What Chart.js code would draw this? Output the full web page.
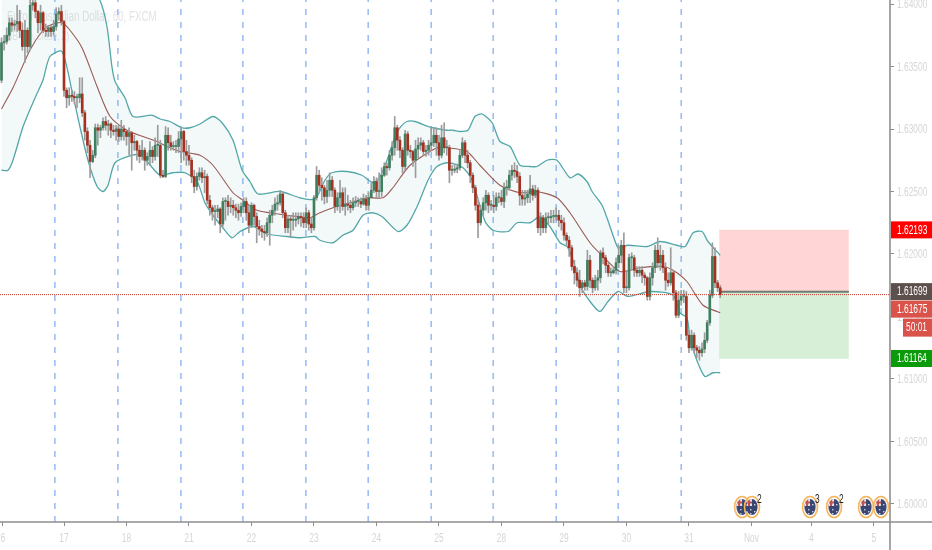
<!DOCTYPE html>
<html><head><meta charset="utf-8">
<style>html,body{margin:0;padding:0;background:#fff}canvas{display:block}</style>
<script src="https://cdn.jsdelivr.net/npm/chart.js@4"></script>
</head><body><canvas id="c" width="932" height="550" style="width:932px;height:550px"></canvas>
<script>
const firstOpen = 1.6339;
const closes = [
1.6369,1.6370,1.6375,1.6385,1.6383,1.6384,1.6386,1.6379,1.6366,1.6379,
1.6366,1.6399,1.6401,1.6394,1.6385,1.6393,1.6379,1.6378,1.6381,1.6378,
1.6382,1.6392,1.6394,1.6386,1.6331,1.6325,1.6327,1.6326,1.6325,1.6325,
1.6328,1.6313,1.6298,1.6287,1.6274,1.6279,1.6301,1.6299,1.6301,1.6306,
1.6303,1.6304,1.6299,1.6298,1.6300,1.6294,1.6300,1.6298,1.6294,1.6297,
1.6289,1.6290,1.6283,1.6278,1.6283,1.6275,1.6278,1.6283,1.6278,1.6287,
1.6287,1.6263,1.6262,1.6295,1.6289,1.6286,1.6286,1.6286,1.6292,1.6298,
1.6282,1.6279,1.6275,1.6262,1.6254,1.6262,1.6265,1.6261,1.6262,1.6243,
1.6237,1.6234,1.6234,1.6236,1.6224,1.6242,1.6242,1.6238,1.6239,1.6237,
1.6235,1.6233,1.6238,1.6242,1.6233,1.6223,1.6239,1.6230,1.6222,1.6220,
1.6218,1.6217,1.6225,1.6231,1.6235,1.6240,1.6241,1.6248,1.6233,1.6221,
1.6228,1.6227,1.6227,1.6228,1.6230,1.6229,1.6225,1.6233,1.6224,1.6221,
1.6245,1.6263,1.6255,1.6253,1.6246,1.6251,1.6259,1.6251,1.6238,1.6245,
1.6249,1.6238,1.6240,1.6239,1.6237,1.6241,1.6242,1.6242,1.6240,1.6244,
1.6239,1.6245,1.6251,1.6258,1.6250,1.6250,1.6263,1.6270,1.6269,1.6279,
1.6285,1.6301,1.6291,1.6283,1.6270,1.6296,1.6283,1.6282,1.6275,1.6284,
1.6287,1.6289,1.6282,1.6283,1.6287,1.6289,1.6295,1.6289,1.6279,1.6293,
1.6285,1.6285,1.6267,1.6267,1.6268,1.6269,1.6279,1.6289,1.6279,1.6273,
1.6263,1.6253,1.6239,1.6225,1.6235,1.6241,1.6247,1.6239,1.6239,1.6238,
1.6245,1.6245,1.6242,1.6253,1.6253,1.6263,1.6267,1.6266,1.6262,1.6247,
1.6244,1.6245,1.6248,1.6252,1.6247,1.6251,1.6221,1.6229,1.6221,1.6229,
1.6229,1.6230,1.6230,1.6231,1.6227,1.6225,1.6215,1.6211,1.6205,1.6190,
1.6185,1.6179,1.6173,1.6177,1.6174,1.6195,1.6179,1.6173,1.6179,1.6181,
1.6201,1.6197,1.6191,1.6185,1.6185,1.6187,1.6193,1.6199,1.6207,1.6173,
1.6173,1.6197,1.6197,1.6187,1.6185,1.6187,1.6183,1.6181,1.6166,1.6181,
1.6189,1.6203,1.6193,1.6199,1.6189,1.6179,1.6177,1.6185,1.6169,1.6151,
1.6163,1.6166,1.6166,1.6135,1.6125,1.6135,1.6125,1.6123,1.6121,1.6124,
1.6131,1.6145,1.6167,1.6198,1.6177,1.6173,1.61675];
const highs = [
1.6373,1.6375,1.6381,1.6389,1.6389,1.6387,1.6399,1.6395,1.6385,1.6387,
1.6381,1.6403,1.6403,1.6403,1.6395,1.6399,1.6394,1.6384,1.6383,1.6383,
1.6387,1.6397,1.6397,1.6399,1.6387,1.6333,1.6333,1.6331,1.6330,1.6328,
1.6341,1.6341,1.6315,1.6301,1.6291,1.6283,1.6304,1.6304,1.6303,1.6309,
1.6310,1.6307,1.6305,1.6303,1.6303,1.6303,1.6307,1.6303,1.6299,1.6301,
1.6298,1.6295,1.6291,1.6287,1.6291,1.6285,1.6281,1.6290,1.6286,1.6293,
1.6303,1.6291,1.6267,1.6302,1.6301,1.6295,1.6290,1.6291,1.6298,1.6301,
1.6299,1.6291,1.6287,1.6277,1.6267,1.6265,1.6269,1.6269,1.6267,1.6264,
1.6247,1.6239,1.6239,1.6239,1.6237,1.6245,1.6245,1.6247,1.6245,1.6243,
1.6240,1.6240,1.6241,1.6245,1.6245,1.6239,1.6241,1.6240,1.6233,1.6227,
1.6223,1.6223,1.6229,1.6235,1.6239,1.6245,1.6247,1.6251,1.6249,1.6235,
1.6231,1.6231,1.6233,1.6233,1.6233,1.6233,1.6233,1.6237,1.6235,1.6229,
1.6247,1.6270,1.6267,1.6261,1.6255,1.6259,1.6265,1.6262,1.6253,1.6249,
1.6259,1.6253,1.6253,1.6247,1.6243,1.6245,1.6246,1.6245,1.6245,1.6248,
1.6247,1.6249,1.6257,1.6262,1.6261,1.6265,1.6269,1.6273,1.6273,1.6283,
1.6290,1.6310,1.6303,1.6294,1.6285,1.6299,1.6298,1.6287,1.6283,1.6291,
1.6293,1.6293,1.6291,1.6287,1.6291,1.6301,1.6301,1.6301,1.6295,1.6303,
1.6305,1.6291,1.6287,1.6271,1.6271,1.6272,1.6283,1.6293,1.6291,1.6283,
1.6275,1.6265,1.6255,1.6243,1.6239,1.6245,1.6251,1.6249,1.6243,1.6247,
1.6249,1.6249,1.6251,1.6257,1.6259,1.6267,1.6271,1.6273,1.6271,1.6265,
1.6251,1.6251,1.6251,1.6263,1.6255,1.6255,1.6253,1.6233,1.6231,1.6233,
1.6233,1.6235,1.6235,1.6237,1.6235,1.6231,1.6229,1.6217,1.6214,1.6207,
1.6195,1.6189,1.6187,1.6179,1.6179,1.6203,1.6199,1.6181,1.6183,1.6187,
1.6203,1.6205,1.6199,1.6193,1.6189,1.6190,1.6197,1.6207,1.6211,1.6217,
1.6187,1.6200,1.6201,1.6199,1.6190,1.6190,1.6190,1.6185,1.6182,1.6185,
1.6193,1.6207,1.6213,1.6207,1.6203,1.6193,1.6185,1.6205,1.6187,1.6171,
1.6170,1.6171,1.6171,1.6170,1.6139,1.6139,1.6137,1.6127,1.6126,1.6129,
1.6137,1.6147,1.6171,1.6209,1.6205,1.6179,1.6175];
const lows = [
1.6337,1.6363,1.6368,1.6371,1.6378,1.6379,1.6378,1.6373,1.6363,1.6353,
1.6361,1.6363,1.6395,1.6389,1.6377,1.6379,1.6377,1.6374,1.6374,1.6374,
1.6375,1.6379,1.6387,1.6383,1.6326,1.6317,1.6319,1.6322,1.6320,1.6317,
1.6321,1.6310,1.6291,1.6281,1.6261,1.6273,1.6277,1.6287,1.6293,1.6299,
1.6299,1.6295,1.6293,1.6295,1.6291,1.6290,1.6291,1.6291,1.6287,1.6279,
1.6267,1.6283,1.6275,1.6273,1.6275,1.6267,1.6271,1.6271,1.6273,1.6275,
1.6278,1.6261,1.6261,1.6261,1.6283,1.6283,1.6283,1.6281,1.6281,1.6273,
1.6275,1.6271,1.6271,1.6257,1.6249,1.6251,1.6259,1.6257,1.6249,1.6240,
1.6231,1.6227,1.6223,1.6229,1.6217,1.6222,1.6227,1.6231,1.6233,1.6231,
1.6229,1.6227,1.6230,1.6233,1.6227,1.6217,1.6221,1.6223,1.6209,1.6215,
1.6213,1.6211,1.6214,1.6207,1.6225,1.6231,1.6235,1.6239,1.6229,1.6217,
1.6217,1.6213,1.6219,1.6222,1.6224,1.6222,1.6221,1.6221,1.6219,1.6217,
1.6219,1.6243,1.6249,1.6243,1.6240,1.6241,1.6246,1.6246,1.6233,1.6235,
1.6233,1.6235,1.6231,1.6235,1.6233,1.6235,1.6238,1.6238,1.6237,1.6239,
1.6235,1.6235,1.6245,1.6249,1.6245,1.6245,1.6246,1.6262,1.6263,1.6267,
1.6275,1.6279,1.6283,1.6277,1.6265,1.6267,1.6279,1.6277,1.6270,1.6261,
1.6277,1.6283,1.6279,1.6278,1.6279,1.6283,1.6286,1.6279,1.6275,1.6277,
1.6281,1.6279,1.6257,1.6263,1.6265,1.6265,1.6267,1.6277,1.6273,1.6269,
1.6257,1.6249,1.6235,1.6213,1.6223,1.6231,1.6235,1.6233,1.6235,1.6233,
1.6235,1.6241,1.6239,1.6237,1.6247,1.6251,1.6259,1.6261,1.6257,1.6239,
1.6239,1.6239,1.6241,1.6241,1.6243,1.6245,1.6217,1.6215,1.6217,1.6217,
1.6224,1.6225,1.6225,1.6227,1.6222,1.6219,1.6211,1.6207,1.6198,1.6187,
1.6176,1.6174,1.6166,1.6169,1.6171,1.6171,1.6173,1.6169,1.6171,1.6171,
1.6177,1.6192,1.6185,1.6182,1.6182,1.6184,1.6184,1.6189,1.6193,1.6169,
1.6169,1.6171,1.6187,1.6182,1.6182,1.6182,1.6177,1.6175,1.6163,1.6163,
1.6175,1.6185,1.6189,1.6187,1.6185,1.6171,1.6174,1.6175,1.6163,1.6149,
1.6149,1.6159,1.6161,1.6131,1.6121,1.6123,1.6121,1.6117,1.6115,1.6118,
1.6121,1.6129,1.6143,1.6165,1.6173,1.6170,1.6165];

const upperHours = [0,18.6,30.1,37.8,40.5,42.4,43.6,47.4,50.5,57.8,60.9,64.7,69.3,72.4,76.2,81.2,84.7,88.9,92.4,95.4,98.5,107,114.6,120.4,124.2,126.9,132.7,138.4,142.7,145.4,148.4,151.1,153,155.7,158.8,163.8,165.7,171.1,173.4,176.1,179.1,181.8,184.5,188.4,191.4,195.3,199.1,203,205.6,209.5,213.3,218.3,221.4,224.8,226.8,230.6,232.5,236.4,237.5,240.6,247.9,252.9,259.4,262.5,265.6,269,271.3,276];
const upperPrices = [1.6451,1.6447,1.6431,1.6403,1.6382,1.6350,1.6338,1.6325,1.6310,1.6311,1.6308,1.6306,1.6301,1.6301,1.6304,1.6310,1.6305,1.6291,1.6267,1.6258,1.6248,1.6250,1.6245,1.6244,1.6259,1.6265,1.6266,1.6263,1.6257,1.6262,1.6277,1.6294,1.6301,1.6306,1.6306,1.6302,1.6301,1.6299,1.6299,1.6298,1.6299,1.6310,1.6312,1.6305,1.6290,1.6286,1.6271,1.6270,1.6270,1.6275,1.6275,1.6261,1.6264,1.6258,1.6250,1.6239,1.6229,1.6206,1.6205,1.6207,1.6206,1.6210,1.6207,1.6206,1.6217,1.6218,1.6210,1.6199];
const lowerHours = [0,2.5,4.4,8.3,12.9,15.9,18.6,23.2,27,30.1,33.2,36.7,39,40.9,43.6,50.1,53.2,56.3,60.9,65.9,70.5,75.1,78.1,81.2,85,88.5,91.6,96.6,102,109.6,114.6,120.4,122.3,127.3,131.1,135,138.8,142.3,146.1,152.3,155.7,159.6,163.8,167.2,171.5,177.2,180.7,185.7,188.8,194.5,198,203,206.8,210.6,214.5,217.2,219.5,222.2,226,229.8,232.9,236.8,240.6,249,257.9,260.5,263.2,264.4,267,270.1,273.2,276];
const lowerPrices = [1.6267,1.6267,1.6275,1.6302,1.6325,1.6339,1.6358,1.6362,1.6331,1.6302,1.6275,1.6254,1.6250,1.6255,1.6273,1.6279,1.6279,1.6273,1.6263,1.6265,1.6265,1.6258,1.6241,1.6231,1.6221,1.6213,1.6218,1.6222,1.6216,1.6214,1.6213,1.6214,1.6211,1.6209,1.6215,1.6219,1.6231,1.6233,1.6230,1.6218,1.6223,1.6238,1.6259,1.6270,1.6273,1.6269,1.6259,1.6226,1.6219,1.6218,1.6225,1.6225,1.6230,1.6222,1.6209,1.6206,1.6195,1.6175,1.6162,1.6154,1.6162,1.6170,1.6166,1.6170,1.6167,1.6153,1.6149,1.6133,1.6115,1.6102,1.6105,1.6105];
const basisHours = [0,4.4,10.9,15.9,18.6,23.2,26.3,30.9,36.7,41.7,48.2,54.3,59.7,63.6,68.5,76.2,81.2,88.9,92.7,98.1,103,109.6,118.5,120.4,122.3,127.3,133.8,140.4,146.5,150.3,156.9,167.2,171.1,178.7,183.7,191.4,199.1,205.6,213.3,218.3,226,231,237.5,245.2,254,257.9,263.2,269.4,276];
const basisPrices = [1.6316,1.6333,1.6363,1.6379,1.6383,1.6385,1.6379,1.6365,1.6334,1.6310,1.6299,1.6294,1.6290,1.6286,1.6282,1.6279,1.6271,1.6249,1.6243,1.6235,1.6233,1.6231,1.6229,1.6231,1.6233,1.6237,1.6241,1.6245,1.6245,1.6253,1.6271,1.6285,1.6285,1.6282,1.6271,1.6255,1.6249,1.6250,1.6245,1.6233,1.6209,1.6198,1.6186,1.6189,1.6190,1.6187,1.6178,1.6159,1.6153];

const sessionHours = [20.5,44.7,68.9,92.7,116.9,140.8,165,188.8,213,236.8,261];
const dayHours = [0.5,24,48,72,96,120,144,168,192,216,240,264,288,311,335];
const dayLabels = ['6','17','18','21','22','23','24','25','28','29','30','31','Nov','4','5'];
const priceTicks = [1.60,1.605,1.61,1.615,1.62,1.625,1.63,1.635,1.64];

const positionHours = [275.6,325.4];
const stopPrice = 1.62193, entryPrice = 1.61699, targetPrice = 1.61164, lastPrice = 1.61675;
const countdown = '50:01';

const eventHours = [284.4,288.2,310.5,319.7,332,337.7];
const eventPrices = [1.59976,1.59976,1.59976,1.59976,1.59976,1.59976];
const eventCounts = ['','2','3','2','',''];

const watermark = ['Euro / Australian Dollar, 60, FXCM','BB (20, close, 2)'];

const yMin = 1.59856, yMax = 1.64032, xMin = -0.58, xMax = 341.2;
const FONT = "'Liberation Sans',Arial,sans-serif";
const TEXT_SQUEEZE = 0.7;

const opens = closes.map((c,i)=> i ? closes[i-1] : firstOpen);
const zip = (xs,ys)=> xs.map((x,i)=>({x,y:ys[i]}));
const RED = '#a5301f', GREEN = '#3f7f60';

const canvas = document.getElementById('c');
const ctx = canvas.getContext('2d');
const rawFillText = ctx.fillText.bind(ctx);
ctx.fillText = (t,x,y)=> rawFillText(t,x,y,ctx.measureText(t).width*TEXT_SQUEEZE);

function eventIcon(){
  const c = document.createElement('canvas'); c.width = 18; c.height = 24;
  const g = c.getContext('2d');
  g.beginPath(); g.ellipse(9,12,7.5,10.5,0,0,Math.PI*2); g.strokeStyle='#f4b459'; g.lineWidth=1.6; g.stroke();
  g.beginPath(); g.ellipse(9,12,5.6,8,0,0,Math.PI*2); g.fillStyle='#3a4672'; g.fill();
  g.save(); g.clip();
  g.fillStyle='#e8dfe6'; g.fillRect(3,4,6,7);
  g.fillStyle='#c4504e'; g.fillRect(5,4,2,7); g.fillRect(3,6.5,6,2);
  g.fillStyle='#cfd3e4';
  [[7,14],[11,16],[11,9],[7,18]].forEach(p=>g.fillRect(p[0],p[1],1.4,1.4));
  g.restore();
  return c;
}
const icon = eventIcon();

const sessionPoints = [];
sessionHours.forEach(h=>{ sessionPoints.push({x:h,y:yMin},{x:h,y:yMax},{x:h,y:null}); });

const overlay = {
  id:'overlay',
  beforeDatasetsDraw(chart){
    const g = chart.ctx;
    g.save();
    g.fillStyle='#e4e4e4'; g.textBaseline='middle'; g.textAlign='left';
    g.font='14px '+FONT; g.fillText(watermark[0],7,17);
    g.font='12px '+FONT; g.fillText(watermark[1],7,37);
    g.restore();
  },
  afterDraw(chart){
    const g = chart.ctx, y = chart.scales.y, x = chart.scales.x, a = chart.chartArea;
    g.save();
    g.strokeStyle='#8f8f8f'; g.lineWidth=1.6;
    g.beginPath(); g.moveTo(0,a.bottom); g.lineTo(chart.width,a.bottom);
    g.moveTo(a.right,0); g.lineTo(a.right,chart.height); g.stroke();
    g.font='12px '+FONT; g.textBaseline='middle';
    const box = (cy,left,h,bg,txt)=>{
      g.fillStyle=bg; g.fillRect(left,cy-h/2,chart.width-left,h);
      g.fillStyle='#fff'; g.textAlign='left'; g.fillText(txt,left+(left>a.right+3?3:6),cy+0.5);
    };
    box(y.getPixelForValue(stopPrice),a.right+1,17,'#ff0000',stopPrice.toFixed(5));
    box(y.getPixelForValue(targetPrice),a.right+1,17,'#0a9a0a',targetPrice.toFixed(5));
    box(y.getPixelForValue(entryPrice),a.right+1,17,'#5c4f4c',entryPrice.toFixed(5));
    const lp = y.getPixelForValue(lastPrice);
    box(lp+14.5,a.right+1,17,'#d9534a',lastPrice.toFixed(5));
    box(lp+33,a.right+13,18,'#d9534a',countdown);
    g.fillStyle='#222'; g.textAlign='left';
    eventHours.forEach((h,i)=>{ if(eventCounts[i]) g.fillText(eventCounts[i],x.getPixelForValue(h)+5,y.getPixelForValue(eventPrices[i])-7); });
    g.restore();
  }
};

new Chart(canvas,{
  type:'bar',
  plugins:[overlay],
  data:{datasets:[
    {type:'line',label:'Last price',data:zip([xMin,xMax],[lastPrice,lastPrice]),borderColor:'#c0392b',borderWidth:1,borderDash:[1,1],pointRadius:0,order:0},
    {type:'scatter',label:'Events',data:zip(eventHours,eventPrices),pointStyle:icon,pointRadius:9,order:0},
    {label:'Candles',data:closes.map((c,i)=>({x:i,y:[opens[i],c]})),backgroundColor:closes.map((c,i)=>c>=opens[i]?GREEN:RED),barThickness:2,minBarLength:1,order:1},
    {label:'Wicks',data:closes.map((c,i)=>({x:i,y:[lows[i],highs[i]]})),backgroundColor:'#9c9c9c',barThickness:1,order:2},
    {type:'line',label:'Basis',data:zip(basisHours,basisPrices),borderColor:'#9a5a54',borderWidth:1.1,pointRadius:0,tension:0.25,order:3},
    {type:'line',label:'Upper',data:zip(upperHours,upperPrices),borderColor:'#54a7a8',borderWidth:1.3,pointRadius:0,tension:0.25,fill:{target:5+1},backgroundColor:'rgba(84,167,168,0.07)',order:4},
    {type:'line',label:'Lower',data:zip(lowerHours,lowerPrices),borderColor:'#54a7a8',borderWidth:1.3,pointRadius:0,tension:0.25,order:4},
    {type:'line',label:'Sessions',data:sessionPoints,borderColor:'#86b0f5',borderWidth:1.3,borderDash:[6,7],pointRadius:0,spanGaps:false,order:5},
    {type:'line',label:'Entry',data:zip(positionHours,[entryPrice,entryPrice]),borderColor:'#6d7a6f',borderWidth:2,pointRadius:0,order:3},
    {type:'line',label:'Stop',data:zip(positionHours,[stopPrice,stopPrice]),borderColor:'rgba(255,0,0,0.06)',borderWidth:1,pointRadius:0,fill:{value:entryPrice},backgroundColor:'rgba(255,0,0,0.165)',order:6},
    {type:'line',label:'Target',data:zip(positionHours,[targetPrice,targetPrice]),borderColor:'rgba(0,160,0,0.06)',borderWidth:1,pointRadius:0,fill:{value:entryPrice},backgroundColor:'rgba(40,170,40,0.19)',order:6}
  ]},
  options:{
    responsive:false,animation:false,devicePixelRatio:1,
    layout:{padding:0,autoPadding:false},
    datasets:{bar:{grouped:false}},
    plugins:{legend:{display:false},tooltip:{enabled:false},title:{display:false}},
    scales:{
      x:{type:'linear',min:xMin,max:xMax,offset:false,
        afterBuildTicks(s){s.ticks=dayHours.map(v=>({value:v}));},
        afterFit(s){s.height=28;s.paddingLeft=0;s.paddingRight=0;},
        grid:{display:true,drawOnChartArea:false,drawTicks:true,tickLength:4,tickColor:'#8f8f8f',offset:false},
        border:{display:false},
        ticks:{autoSkip:false,maxRotation:0,padding:5,color:'#d6d6d6',font:{family:FONT,size:12},
          callback:(v,i)=>dayLabels[i]}},
      y:{type:'linear',position:'right',min:yMin,max:yMax,
        afterBuildTicks(s){s.ticks=priceTicks.map(v=>({value:v}));},
        afterFit(s){s.width=42;s.paddingTop=0;s.paddingBottom=0;},
        grid:{display:true,drawOnChartArea:false,drawTicks:true,tickLength:4,tickColor:'#8f8f8f'},
        border:{display:false},
        ticks:{autoSkip:false,padding:3,labelOffset:1,color:'#d6d6d6',font:{family:FONT,size:12},
          callback:v=>v.toFixed(5)}}
    }
  }
});
</script></body></html>
